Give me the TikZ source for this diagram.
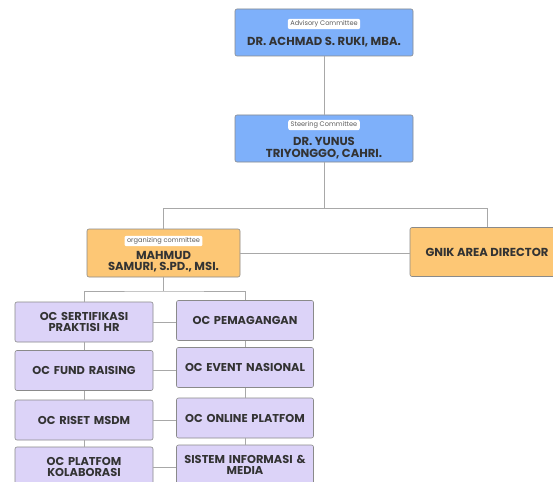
\documentclass[tikz,border=0pt]{standalone}
\usepackage{fontspec}
\setmainfont{Poppins}
\definecolor{boxblue}{HTML}{7EB0FA}
\definecolor{boxorange}{HTML}{FDC775}
\definecolor{boxpurple}{HTML}{DCD3F8}
\definecolor{boxline}{HTML}{8A8A8A}
\definecolor{wirecol}{HTML}{A8A8A8}
\definecolor{ink}{HTML}{333333}
\begin{document}
\begin{tikzpicture}[x=1pt,y=-1pt,
  box/.style={draw=boxline,rounded corners=2pt,line width=0.6pt,inner sep=0pt},
  head/.style={box,fill=boxblue,minimum width=178,minimum height=47},
  org/.style={box,fill=boxorange,minimum width=153,minimum height=48},
  unit/.style={box,fill=boxpurple,minimum height=40,text width=134,align=center,
    font=\fontsize{11.4}{11}\selectfont\bfseries,text=ink},
  person/.style={font=\fontsize{11.6}{11.5}\selectfont\bfseries,text=ink,align=center,inner sep=0pt},
  tag/.style={fill=white,rounded corners=2pt,inner xsep=2.5pt,inner ysep=1.8pt,
    font=\fontsize{6.6}{6.6}\selectfont,text=ink!80},
  wire/.style={draw=wirecol,line width=0.6pt}]
  \fill[white] (0,0) rectangle (553,481);
  \useasboundingbox (0,0) rectangle (553,481);
  % top of the chart
  \node[head] (adv) at (324,32.5) {};
  \node[tag] (advtag) at (324,24) {Advisory Committee};
  \node[person] (advname) at (324,42.5) {DR. ACHMAD S. RUKI, MBA.};
  \node[head] (ste) at (324,138.5) {};
  \node[tag] (stetag) at (324,125) {Steering Committee};
  \node[person] (stename) at (324,148) {DR. YUNUS\\TRIYONGGO, CAHRI.};
  % second level
  \node[org] (oc) at (163.5,253) {};
  \node[tag] (octag) at (163.5,241) {organizing committee};
  \node[person] (ocname) at (163.5,261.5) {MAHMUD\\SAMURI, S.PD., MSI.};
  \node[org,minimum width=154,minimum height=49] (gnik) at (487,252) {};
  \node[person] (gnikname) at (487,252) {GNIK AREA DIRECTOR};
  % organizing units
  \node[unit,minimum width=138] (l1) at (84,322) {OC SERTIFIKASI\\PRAKTISI HR};
  \node[unit,minimum width=138] (l2) at (84,370.5) {OC FUND RAISING};
  \node[unit,minimum width=138] (l3) at (84,420) {OC RISET MSDM};
  \node[unit,minimum width=138] (l4) at (84,467) {OC PLATFOM\\KOLABORASI};
  \node[unit,minimum width=137] (r1) at (245,320.5) {OC PEMAGANGAN};
  \node[unit,minimum width=137] (r2) at (245,367.5) {OC EVENT NASIONAL};
  \node[unit,minimum width=137] (r3) at (245,418) {OC ONLINE PLATFOM};
  \node[unit,minimum width=137] (r4) at (245,465) {SISTEM INFORMASI \&\\MEDIA};
  % connectors
  \coordinate (bus) at (324,208);
  \coordinate (obus) at (163.5,291);
  \draw[wire] (adv) -- (ste);
  \draw[wire] (ste) -- (bus);
  \draw[wire] (oc.north) |- (gnik.north |- bus) -- (gnik.north);
  \draw[wire] (oc.east) -- (oc.east -| gnik.west);
  \draw[wire] (oc) -- (obus);
  \draw[wire] (l1.north) |- (obus) -| (r1.north);
  \draw[wire] (l1) -- (l2) (l2) -- (l3) (l3) -- (l4);
  \draw[wire] (r1) -- (r2) (r2) -- (r3) (r3) -- (r4);
  \draw[wire] (l1.east) -- (l1.east -| r1.west);
  \draw[wire] (l2.east) -- (l2.east -| r2.west);
  \draw[wire] (l3.east) -- (l3.east -| r3.west);
  \draw[wire] (l4.east) -- (l4.east -| r4.west);
\end{tikzpicture}
\end{document}
